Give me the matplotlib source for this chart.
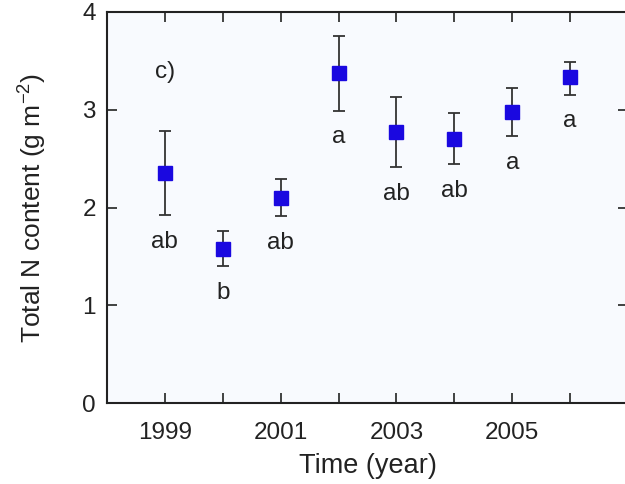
import matplotlib
matplotlib.use("Agg")
import matplotlib.pyplot as plt

years = [1999, 2000, 2001, 2002, 2003, 2004, 2005, 2006]
n_mean = [2.35, 1.58, 2.10, 3.38, 2.77, 2.70, 2.98, 3.33]
err_up = [0.43, 0.18, 0.19, 0.37, 0.36, 0.27, 0.24, 0.16]
err_down = [0.43, 0.18, 0.19, 0.39, 0.36, 0.26, 0.25, 0.18]
letters = ["ab", "b", "ab", "a", "ab", "ab", "a", "a"]

plt.rcParams['font.family'] = ['Liberation Sans', 'DejaVu Sans']
plt.rcParams['mathtext.default'] = 'regular'

fig = plt.figure(figsize=(6.25, 4.84), dpi=100)
ax = fig.add_axes([107/625, 1 - 403/484, 521/625, 391/484])
ax.set_facecolor('#f8fafe')

ax.errorbar(years, n_mean, yerr=[err_down, err_up], fmt='s', color='#1a08e0',
            ms=9.5, ecolor='#333333', elinewidth=1.3, capsize=4.3, capthick=1.3,
            zorder=3)

for x, y, lo, lab in zip(years, n_mean, err_down, letters):
    ax.annotate(lab, (x, y - lo), xytext=(0, -19), textcoords='offset points',
                ha='center', va='center', fontsize=17.5, color='#222222')

ax.text(0.111, 0.847, 'c)', transform=ax.transAxes, ha='center', va='center',
        fontsize=17.5, color='#222222')

ax.set_xlim(1998, 2007)
ax.set_ylim(0, 4)
ax.set_xticks(years)
ax.set_xticklabels([str(y) if y % 2 == 1 else '' for y in years])
ax.set_yticks([0, 1, 2, 3, 4])
ax.tick_params(direction='in', length=7, width=1.2, labelsize=17.5,
               top=True, right=True, colors='#222222', pad=8)
ax.tick_params(axis='x', pad=14)
for s in ax.spines.values():
    s.set_linewidth(1.5)
    s.set_color('#222222')

ax.set_xlabel('Time (year)', fontsize=19.5, color='#222222', labelpad=6)
ax.set_ylabel('Total N content (g m$^{-2}$)', fontsize=19, color='#222222',
              labelpad=24)

fig.savefig('out.png', dpi=100)
